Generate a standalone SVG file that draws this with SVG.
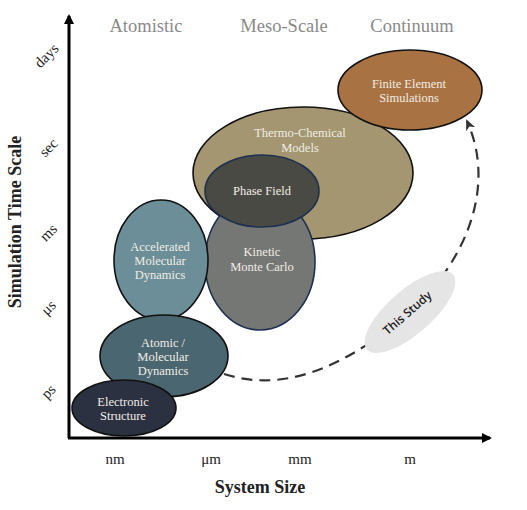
<svg xmlns="http://www.w3.org/2000/svg" width="527" height="510" viewBox="0 0 527 510">
<defs>
<marker id="axArrow" markerWidth="10" markerHeight="10" refX="8" refY="5" orient="auto" markerUnits="userSpaceOnUse">
<path d="M0,0 L10,5 L0,10 Z" fill="#000"/>
</marker>
<marker id="dashArrow" markerWidth="12" markerHeight="12" refX="9" refY="6" orient="auto" markerUnits="userSpaceOnUse">
<path d="M0,1 L11,6 L0,11 L3,6 Z" fill="#333"/>
</marker>
<style>
.hdr{font-family:"Liberation Serif","DejaVu Serif",serif;font-size:18.5px;fill:#8a8a8a;text-anchor:middle}
.tick{font-family:"Liberation Serif","DejaVu Serif",serif;font-size:15px;fill:#222;text-anchor:middle}
.axl{font-family:"Liberation Serif","DejaVu Serif",serif;font-size:18px;font-weight:bold;fill:#222;text-anchor:middle}
.lbl{font-family:"Liberation Serif","DejaVu Serif",serif;font-size:12.5px;fill:#f0ede4;text-anchor:middle}
.node{stroke:#111;stroke-width:1.6}
.navy{stroke:#1e3050;stroke-width:1.6}
</style>
</defs>

<g id="headers">
<text class="hdr" x="146" y="32">Atomistic</text>
<text class="hdr" x="284" y="32">Meso-Scale</text>
<text class="hdr" x="412" y="32">Continuum</text>
</g>

<g id="axes">
<line x1="69" y1="438" x2="69" y2="16" stroke="#000" stroke-width="3" marker-end="url(#axArrow)"/>
<line x1="68" y1="438" x2="490" y2="438" stroke="#000" stroke-width="3" marker-end="url(#axArrow)"/>
<text class="axl" transform="translate(21,222) rotate(-90)">Simulation Time Scale</text>
<text class="axl" x="260" y="493">System Size</text>
<text class="tick" transform="translate(50,59) rotate(-45)">days</text>
<text class="tick" transform="translate(52,151) rotate(-45)">sec</text>
<text class="tick" transform="translate(52,236) rotate(-45)">ms</text>
<text class="tick" transform="translate(52,311) rotate(-45)">μs</text>
<text class="tick" transform="translate(52,395) rotate(-45)">ps</text>
<text class="tick" x="115" y="464">nm</text>
<text class="tick" x="211" y="464">μm</text>
<text class="tick" x="300" y="464">mm</text>
<text class="tick" x="410" y="464">m</text>
</g>

<g id="connectors">
<path d="M224,374 C280,392 340,372 410,312 C462,265 498,190 467,121" fill="none" stroke="#333" stroke-width="2.2" stroke-dasharray="11,7" marker-end="url(#dashArrow)"/>
</g>

<g id="thermo-chemical">
<ellipse class="node" cx="303" cy="173" rx="110" ry="66" fill="#a39670"/>
<text class="lbl" x="300" y="137">Thermo-Chemical</text>
<text class="lbl" x="300" y="152">Models</text>
</g>

<g id="kinetic-monte-carlo">
<ellipse class="navy" cx="260" cy="262" rx="55" ry="68" fill="#757775"/>
<text class="lbl" x="262" y="256">Kinetic</text>
<text class="lbl" x="262" y="271">Monte Carlo</text>
</g>

<g id="phase-field">
<ellipse class="navy" cx="262" cy="191" rx="57" ry="36" fill="#4a4a44"/>
<text class="lbl" x="262" y="195">Phase Field</text>
</g>

<g id="accelerated-md">
<ellipse class="node" cx="161" cy="260" rx="47" ry="60" fill="#6b8e98"/>
<text class="lbl" x="160" y="251">Accelerated</text>
<text class="lbl" x="160" y="265">Molecular</text>
<text class="lbl" x="160" y="279">Dynamics</text>
</g>

<g id="atomic-md">
<ellipse class="node" cx="164" cy="356" rx="64" ry="41" fill="#4a6670"/>
<text class="lbl" x="163" y="347">Atomic /</text>
<text class="lbl" x="163" y="361">Molecular</text>
<text class="lbl" x="163" y="375">Dynamics</text>
</g>

<g id="electronic-structure">
<ellipse class="node" cx="124" cy="408" rx="52" ry="28" fill="#2b3140"/>
<text class="lbl" x="123" y="406">Electronic</text>
<text class="lbl" x="123" y="420">Structure</text>
</g>

<g id="finite-element">
<ellipse class="node" cx="410" cy="90" rx="72" ry="40" fill="#a87243"/>
<text class="lbl" x="409" y="88">Finite Element</text>
<text class="lbl" x="409" y="102">Simulations</text>
</g>

<g id="this-study">
<ellipse cx="410" cy="312" rx="57" ry="22" fill="#e6e5e6" transform="rotate(-41 410 312)"/>
<text transform="translate(410,316) rotate(-41)" style="font-family:'Open Sans','DejaVu Sans',sans-serif;font-size:12px;font-weight:600;fill:#222;text-anchor:middle">This Study</text>
</g>
</svg>
